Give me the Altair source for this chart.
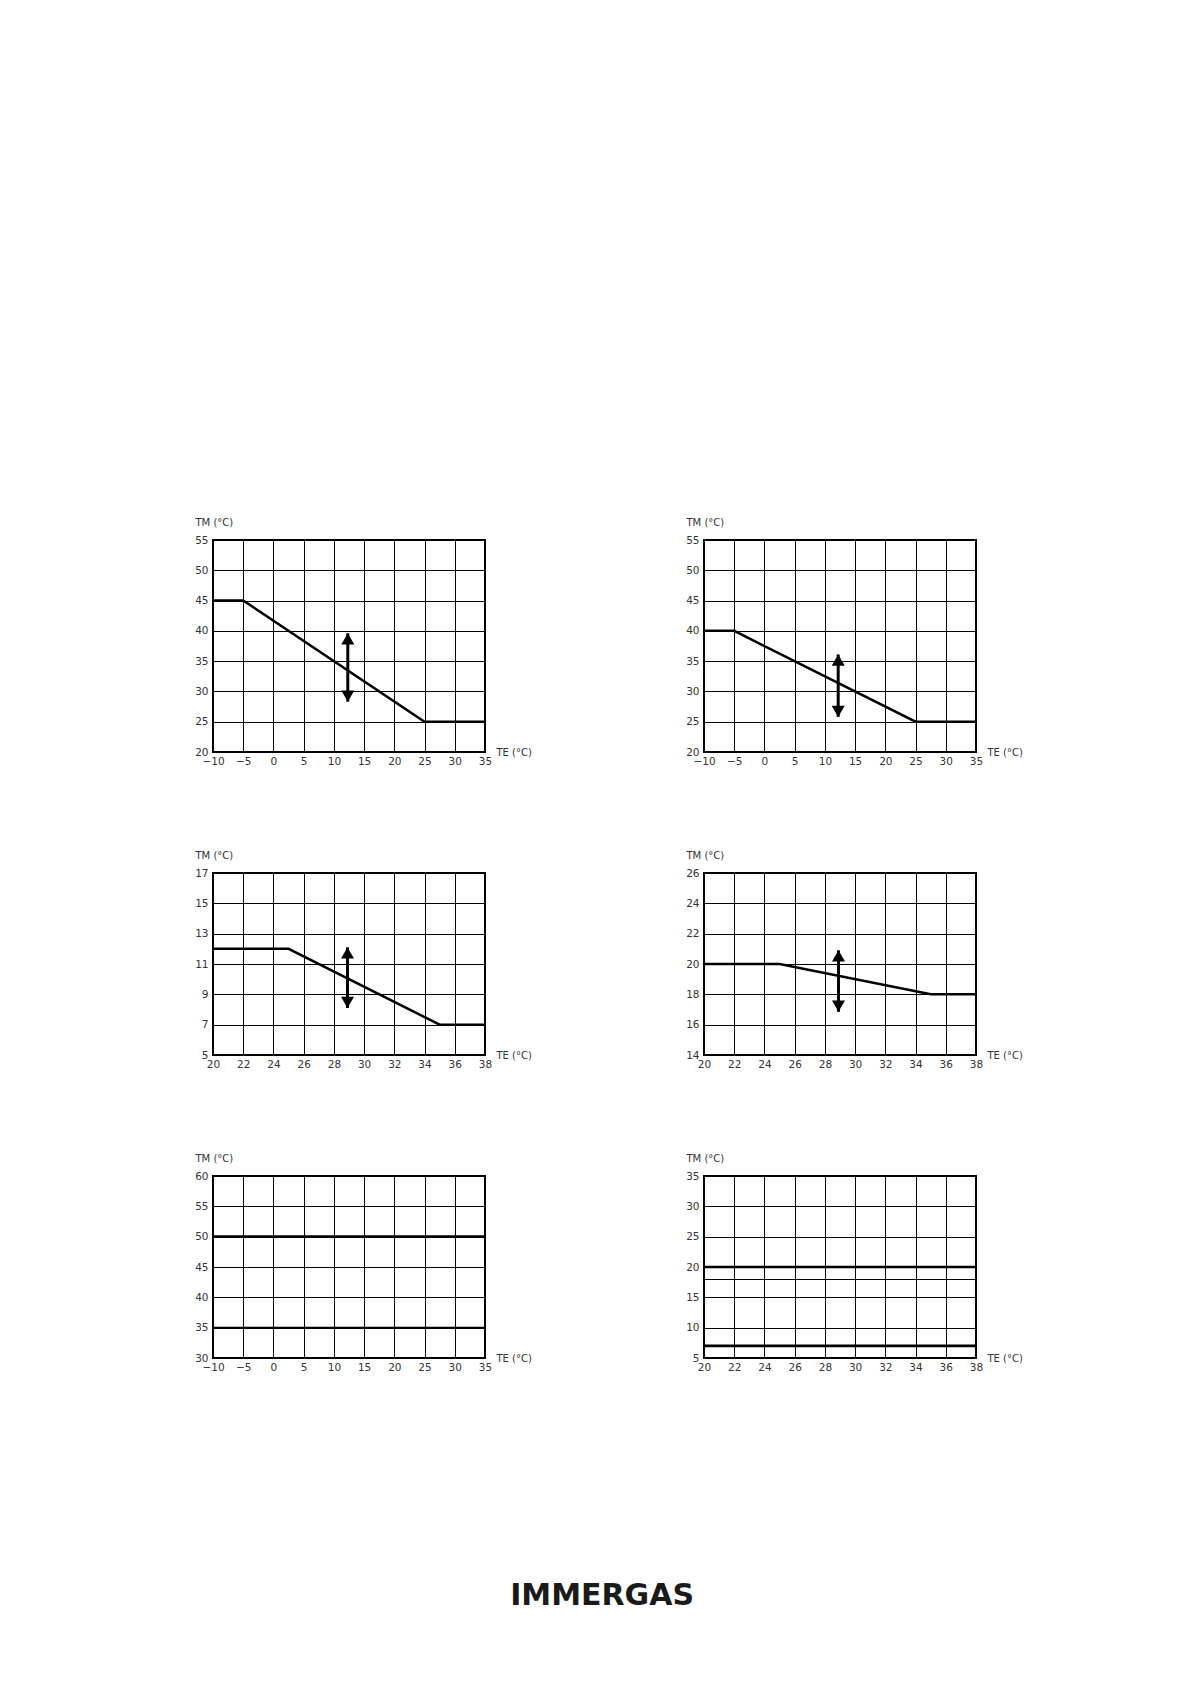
import altair as alt
import pandas as pd

# ---------------- data ----------------
# Panel 1 (top left)
p1_te = [-10, -5, 25, 35]
p1_tm = [45, 45, 25, 25]
p1_arrow_te = [12.3]
p1_arrow_lo = [28.3]
p1_arrow_hi = [39.6]
p1_x_ticks = [-10, -5, 0, 5, 10, 15, 20, 25, 30, 35]
p1_y_ticks = [20, 25, 30, 35, 40, 45, 50, 55]

# Panel 2 (top right)
p2_te = [-10, -5, 25, 35]
p2_tm = [40, 40, 25, 25]
p2_arrow_te = [12.2]
p2_arrow_lo = [25.8]
p2_arrow_hi = [36.1]
p2_x_ticks = [-10, -5, 0, 5, 10, 15, 20, 25, 30, 35]
p2_y_ticks = [20, 25, 30, 35, 40, 45, 50, 55]

# Panel 3 (middle left)
p3_te = [20, 25, 35, 38]
p3_tm = [12, 12, 7, 7]
p3_arrow_te = [28.9]
p3_arrow_lo = [8.1]
p3_arrow_hi = [12.1]
p3_x_ticks = [20, 22, 24, 26, 28, 30, 32, 34, 36, 38]
p3_y_ticks = [5, 7, 9, 11, 13, 15, 17]

# Panel 4 (middle right)
p4_te = [20, 25, 35, 38]
p4_tm = [20, 20, 18, 18]
p4_arrow_te = [28.9]
p4_arrow_lo = [16.85]
p4_arrow_hi = [20.9]
p4_x_ticks = [20, 22, 24, 26, 28, 30, 32, 34, 36, 38]
p4_y_ticks = [14, 16, 18, 20, 22, 24, 26]

# Panel 5 (bottom left)
p5_te = [-10, 35]
p5_tm_upper = [50, 50]
p5_tm_lower = [35, 35]
p5_x_ticks = [-10, -5, 0, 5, 10, 15, 20, 25, 30, 35]
p5_y_ticks = [30, 35, 40, 45, 50, 55, 60]

# Panel 6 (bottom right)
p6_te = [20, 38]
p6_tm_upper = [20, 20]
p6_tm_lower = [7, 7]
p6_x_ticks = [20, 22, 24, 26, 28, 30, 32, 34, 36, 38]
p6_y_ticks = [5, 10, 15, 18, 20, 25, 30, 35]
p6_y_hidden_labels = [18]

# ---------------- styling / layout ----------------
PANEL_W = 272
FONT = "DejaVu Sans"


def encodings(x_ticks, y_ticks, hidden=None):
    label_expr = "datum.label"
    if hidden:
        cond = " || ".join(f"datum.value == {h}" for h in hidden)
        label_expr = f"({cond}) ? '' : datum.label"
    x_scale = alt.Scale(domain=[x_ticks[0], x_ticks[-1]], nice=False, zero=False)
    y_scale = alt.Scale(domain=[y_ticks[0], y_ticks[-1]], nice=False, zero=False)
    x_enc = alt.X(
        "te:Q",
        scale=x_scale,
        axis=alt.Axis(
            values=x_ticks,
            title="TE  (°C)",
            titleAngle=0,
            titleX=PANEL_W + 11,
            titleY=0,
            titleAlign="left",
            titleBaseline="middle",
            labelPadding=4,
        ),
    )
    y_enc = alt.Y(
        "tm:Q",
        scale=y_scale,
        axis=alt.Axis(
            values=y_ticks,
            title="TM  (°C)",
            titleAngle=0,
            titleX=-18,
            titleY=-18,
            titleAlign="left",
            titleBaseline="middle",
            labelPadding=5,
            labelExpr=label_expr,
        ),
    )
    return x_enc, y_enc


def curve(te, tm, x_enc, y_enc, width):
    df = pd.DataFrame({"te": te, "tm": tm})
    return alt.Chart(df).mark_line(color="black", strokeWidth=width,
                                   strokeJoin="miter").encode(x=x_enc, y=y_enc)


def arrow(te, lo, hi, x_enc, y_enc):
    df_shaft = pd.DataFrame({"te": te, "tm": lo, "hi": hi})
    df_top = pd.DataFrame({"te": te, "tm": hi})
    df_bot = pd.DataFrame({"te": te, "tm": lo})
    shaft = alt.Chart(df_shaft).mark_rule(color="black", strokeWidth=3).encode(
        x=x_enc, y=y_enc, y2="hi:Q")
    head_up = alt.Chart(df_top).mark_point(shape="triangle-up", filled=True, size=169,
                                           color="black", opacity=1, yOffset=5.6).encode(
        x=x_enc, y=y_enc)
    head_dn = alt.Chart(df_bot).mark_point(shape="triangle-down", filled=True, size=169,
                                           color="black", opacity=1, yOffset=-5.6).encode(
        x=x_enc, y=y_enc)
    return [shaft, head_up, head_dn]


def slope_panel(te, tm, a_te, a_lo, a_hi, x_ticks, y_ticks, height):
    x_enc, y_enc = encodings(x_ticks, y_ticks)
    layers = [curve(te, tm, x_enc, y_enc, 2.5)] + arrow(a_te, a_lo, a_hi, x_enc, y_enc)
    return alt.layer(*layers).properties(width=PANEL_W, height=height)


def level_panel(te, upper, lower, lower_w, x_ticks, y_ticks, height, hidden=None):
    x_enc, y_enc = encodings(x_ticks, y_ticks, hidden)
    return alt.layer(
        curve(te, upper, x_enc, y_enc, 2.6),
        curve(te, lower, x_enc, y_enc, lower_w),
    ).properties(width=PANEL_W, height=height)


p1 = slope_panel(p1_te, p1_tm, p1_arrow_te, p1_arrow_lo, p1_arrow_hi, p1_x_ticks, p1_y_ticks, 212)
p2 = slope_panel(p2_te, p2_tm, p2_arrow_te, p2_arrow_lo, p2_arrow_hi, p2_x_ticks, p2_y_ticks, 212)
p3 = slope_panel(p3_te, p3_tm, p3_arrow_te, p3_arrow_lo, p3_arrow_hi, p3_x_ticks, p3_y_ticks, 182)
p4 = slope_panel(p4_te, p4_tm, p4_arrow_te, p4_arrow_lo, p4_arrow_hi, p4_x_ticks, p4_y_ticks, 182)
p5 = level_panel(p5_te, p5_tm_upper, p5_tm_lower, 1.8, p5_x_ticks, p5_y_ticks, 182)
p6 = level_panel(p6_te, p6_tm_upper, p6_tm_lower, 2.6, p6_x_ticks, p6_y_ticks, 182,
                 hidden=p6_y_hidden_labels)

chart = alt.concat(
    p1, p2, p3, p4, p5, p6,
    columns=2,
    spacing={"row": 121, "column": 219},
    bounds="flush",
).properties(
    padding={"left": 185, "top": 508, "right": 10, "bottom": 10},
    title=alt.TitleParams(
        text="IMMERGAS",
        orient="bottom",
        anchor="middle",
        offset=207,
        dx=-8,
        font=FONT,
        fontSize=30,
        fontWeight="bold",
        color="#1a1a1a",
    ),
).configure_view(
    stroke="black",
    strokeWidth=2,
).configure_axis(
    grid=True,
    gridColor="black",
    gridOpacity=1,
    gridWidth=1,
    domain=False,
    ticks=False,
    tickSize=0,
    labelFont=FONT,
    labelFontSize=10.5,
    labelColor="#333333",
    labelFlush=False,
    labelOverlap=False,
    titleFont=FONT,
    titleFontSize=10,
    titleFontWeight="normal",
    titleColor="#333333",
)

chart.save("out.html", embed_options={"renderer": "svg", "actions": False})
